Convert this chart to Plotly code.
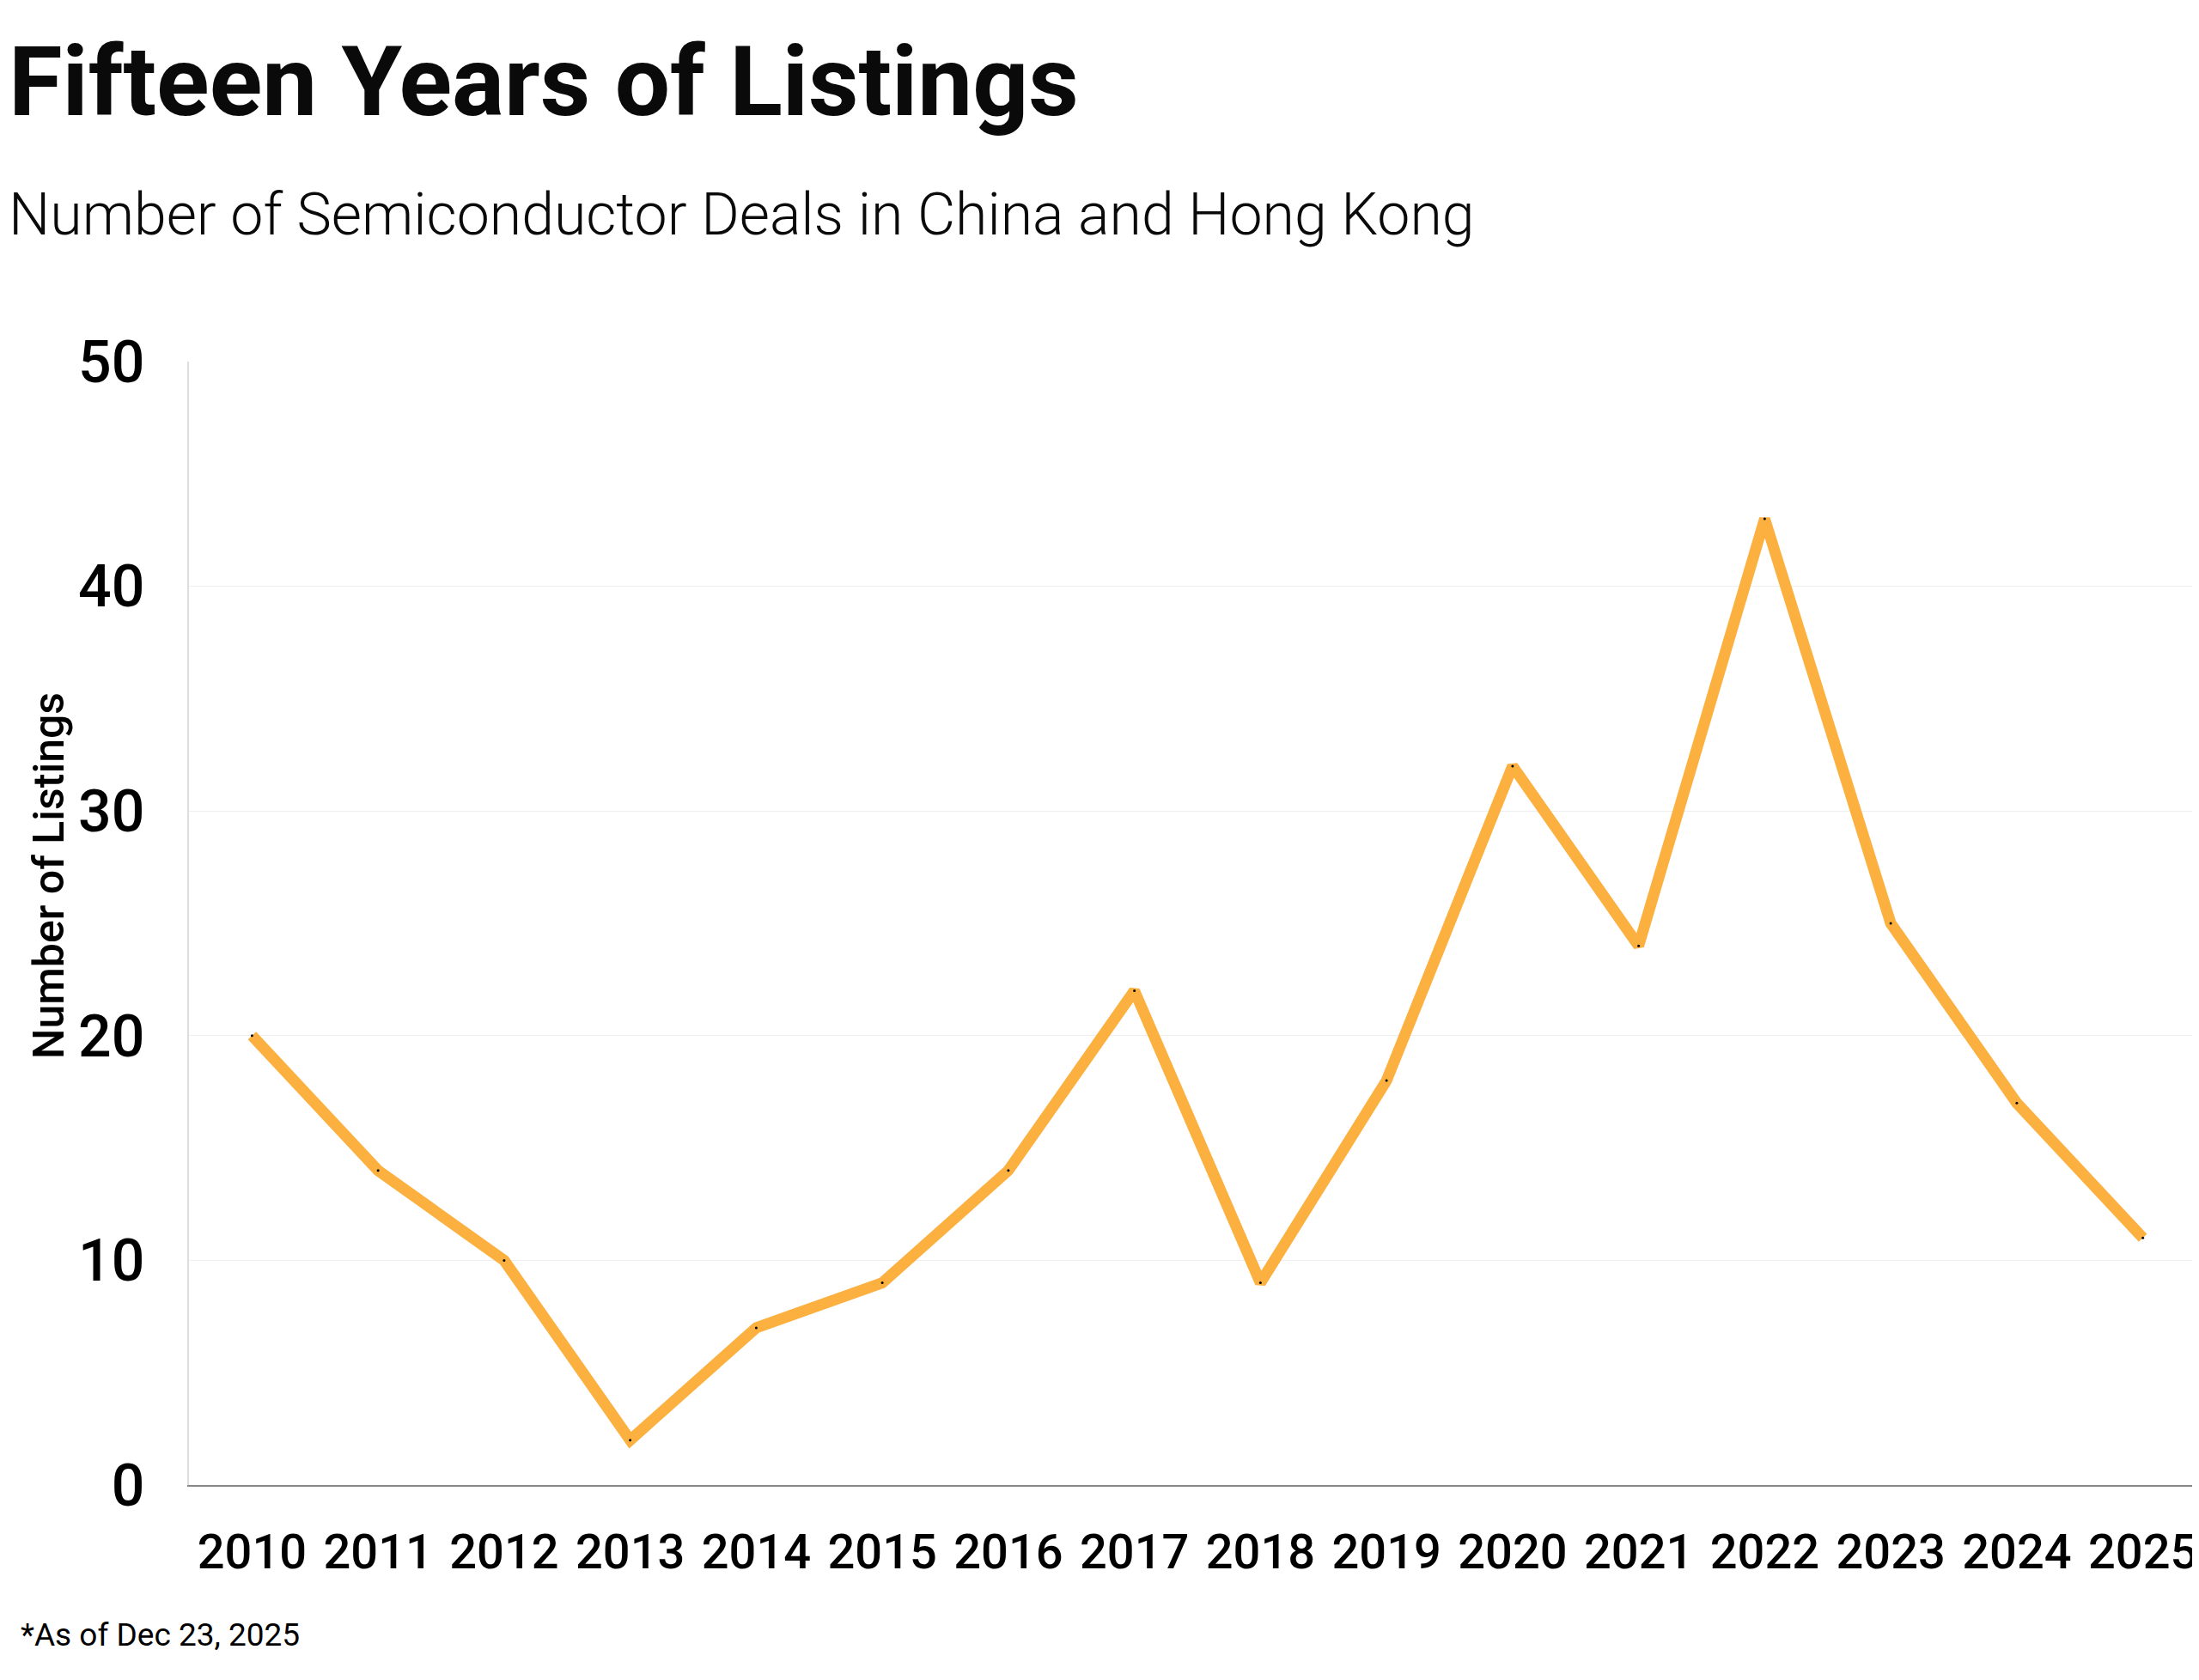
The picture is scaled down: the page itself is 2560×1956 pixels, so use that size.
import plotly.graph_objects as go

years = ["2010", "2011", "2012", "2013", "2014", "2015", "2016", "2017",
         "2018", "2019", "2020", "2021", "2022", "2023", "2024", "2025"]
listings = [20, 14, 10, 2, 7, 9, 14, 22, 9, 18, 32, 24, 43, 25, 17, 11]
y_ticks = [0, 10, 20, 30, 40, 50]

W, H = 2560, 1956
ML, MR, MT, MB = 212, 0, 413, 235
PW, PH = W - ML - MR, H - MT - MB
FONT = "Roboto, 'Noto Sans', sans-serif"


def px_x(x):
    return (x - ML) / PW


def px_y(y):
    return 1 - (y - MT) / PH


fig = go.Figure()
fig.add_trace(go.Scatter(
    x=years, y=listings, mode="lines+markers",
    line=dict(color="#FBB040", width=13),
    marker=dict(color="#000000", size=3),
    hoverinfo="x+y", showlegend=False,
))

fig.update_layout(
    width=W, height=H,
    margin=dict(l=ML, r=MR, t=MT, b=MB),
    paper_bgcolor="white", plot_bgcolor="white",
    font=dict(family=FONT, color="#000000"),
    xaxis=dict(
        type="category", range=[-0.5, 15.5],
        showgrid=False, showline=True, linecolor="#888888", linewidth=2,
        ticks="", tickangle=0, tickfont=dict(size=56, family=FONT, weight=500),
        ticklabelstandoff=28, zeroline=False,
    ),
    yaxis=dict(
        range=[0, 50], tickvals=y_ticks,
        showgrid=True, gridcolor="#EEEEEE", gridwidth=1,
        showline=True, linecolor="#DDDDDD", linewidth=2,
        ticks="", tickfont=dict(size=68, family=FONT, weight=500), ticklabelstandoff=36,
        zeroline=False,
    ),
    annotations=[
        dict(text="<b>Fifteen Years of Listings</b>", xref="paper", yref="paper",
             x=px_x(0), y=px_y(18),
             xanchor="left", yanchor="top", showarrow=False,
             font=dict(size=114, family=FONT, color="#0A0A0A")),
        dict(text="Number of Semiconductor Deals in China and Hong Kong", xref="paper", yref="paper",
             x=px_x(0), y=px_y(200),
             xanchor="left", yanchor="top", showarrow=False,
             font=dict(size=68, family=FONT, color="#0A0A0A", weight=300)),
        dict(text="Number of Listings", xref="paper", yref="paper",
             x=px_x(49), y=px_y(1012), textangle=-90,
             xanchor="center", yanchor="middle", showarrow=False,
             font=dict(size=50, family=FONT, color="#000000", weight=500)),
        dict(text="*As of Dec 23, 2025", xref="paper", yref="paper",
             x=px_x(14), y=px_y(1872),
             xanchor="left", yanchor="top", showarrow=False,
             font=dict(size=37, family=FONT, color="#000000", weight=400)),
    ],
)

fig.write_html("out.html")
